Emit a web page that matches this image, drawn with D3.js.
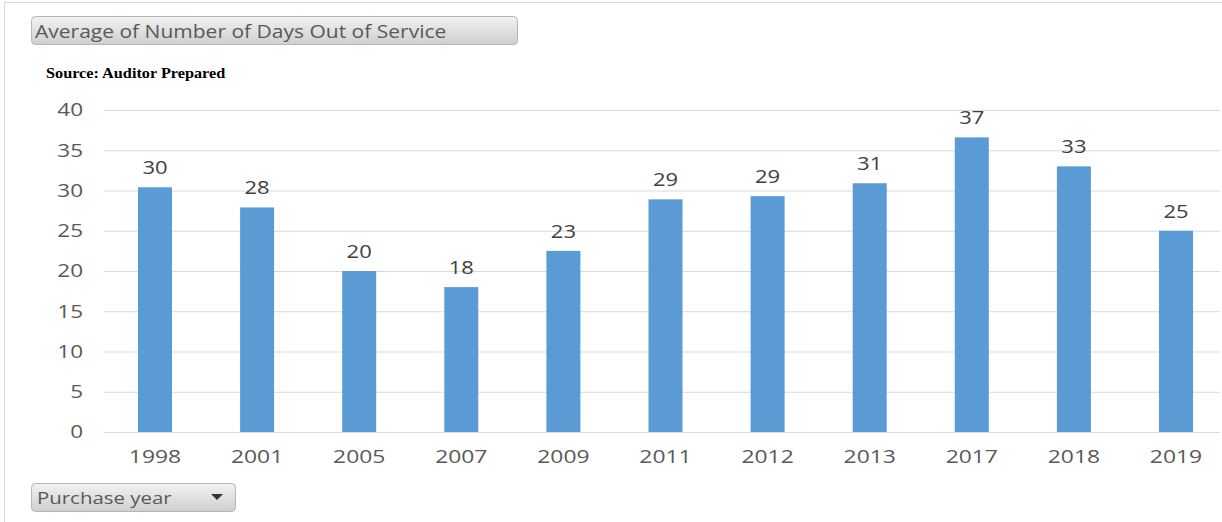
<!DOCTYPE html>
<html><head><meta charset="utf-8">
<script src="https://cdn.jsdelivr.net/npm/d3@7/dist/d3.min.js"></script>
<style>body{margin:0;background:#fff;} svg{display:block;}</style>
</head><body>
<svg id="c" width="1222" height="522"></svg>
<script>
const categories = ["1998","2001","2005","2007","2009","2011","2012","2013","2017","2018","2019"];
const values = [30.4, 27.9, 20.0, 18.0, 22.5, 28.9, 29.3, 30.9, 36.6, 33.0, 25.0];
const labels = ["30","28","20","18","23","29","29","31","37","33","25"];
const yTicks = [0,5,10,15,20,25,30,35,40];
const titleText = "Average of Number of Days Out of Service";
const sourceText = "Source: Auditor Prepared";
const filterText = "Purchase year";

const svg = d3.select("#c");
const font = "'Open Sans', 'DejaVu Sans', sans-serif";

function stretch(sel, f){
  sel.each(function(){
    const w = this.getComputedTextLength();
    d3.select(this).attr("textLength", w*f).attr("lengthAdjust","spacingAndGlyphs");
  });
}

// frame
svg.append("rect").attr("x",4.5).attr("y",2.5).attr("width",1230).attr("height",530)
  .attr("fill","none").attr("stroke","#d9d9d9");

const defs = svg.append("defs");
const g1 = defs.append("linearGradient").attr("id","btn").attr("x1",0).attr("y1",0).attr("x2",0).attr("y2",1);
g1.append("stop").attr("offset","0%").attr("stop-color","#f2f2f2");
g1.append("stop").attr("offset","100%").attr("stop-color","#cfcfcf");

// title button
svg.append("rect").attr("x",31.5).attr("y",16.5).attr("width",486).attr("height",28).attr("rx",4)
  .attr("fill","url(#btn)").attr("stroke","#b5b5b5");
svg.append("text").attr("x",35).attr("y",38).attr("font-family",font).attr("font-size",17.5)
  .attr("fill","#595959").text(titleText).call(stretch, 1.2);

svg.append("text").attr("x",46).attr("y",78).attr("font-family","'Liberation Serif','Times New Roman',serif")
  .attr("font-weight","bold").attr("font-size",14).attr("fill","#000").text(sourceText).call(stretch, 1.16);

const x = d3.scaleBand().domain(categories).range([104,1227]).paddingInner(0.667).paddingOuter(0.333);
const y = d3.scaleLinear().domain([0,40]).range([432,110]);

// gridlines
svg.append("g").selectAll("line").data(yTicks).join("line")
  .attr("x1",104).attr("x2",1220).attr("y1",d=>y(d)+0.5).attr("y2",d=>y(d)+0.5)
  .attr("stroke","#d9d9d9").attr("stroke-width",1);

// y axis labels
const yAxis = d3.axisLeft(y).tickValues(yTicks).tickSize(0).tickPadding(0);
const ya = svg.append("g").attr("transform","translate(83,0)").call(yAxis);
ya.select(".domain").remove();
ya.selectAll("text").attr("font-family",font).attr("font-size",18).attr("fill","#595959").call(stretch, 1.25);

// x axis labels
const xAxis = d3.axisBottom(x).tickSize(0).tickPadding(0);
const xa = svg.append("g").attr("transform","translate(0,447)").call(xAxis);
xa.select(".domain").remove();
xa.selectAll("text").attr("font-family",font).attr("font-size",18).attr("fill","#595959").attr("dy","0.9em").call(stretch, 1.27);

// bars
svg.append("g").selectAll("rect").data(categories).join("rect")
  .attr("x",d=>x(d)).attr("width",x.bandwidth())
  .attr("y",(d,i)=>y(values[i])).attr("height",(d,i)=>y(0)-y(values[i]))
  .attr("fill","#5b9bd5");

// data labels
svg.append("g").selectAll("text").data(categories).join("text")
  .attr("x",d=>x(d)+x.bandwidth()/2).attr("y",(d,i)=>y(values[i])-13)
  .attr("text-anchor","middle").attr("font-family",font).attr("font-size",18).attr("fill","#404040")
  .text((d,i)=>labels[i]).call(stretch, 1.22);

// dropdown
svg.append("rect").attr("x",31.5).attr("y",483.5).attr("width",204).attr("height",28).attr("rx",4)
  .attr("fill","url(#btn)").attr("stroke","#b5b5b5");
svg.append("text").attr("x",37).attr("y",504).attr("font-family",font).attr("font-size",17)
  .attr("fill","#595959").text(filterText).call(stretch, 1.2);
svg.append("path").attr("d","M211,494 L223,494 L217,500 Z").attr("fill","#333");
</script>
</body></html>
